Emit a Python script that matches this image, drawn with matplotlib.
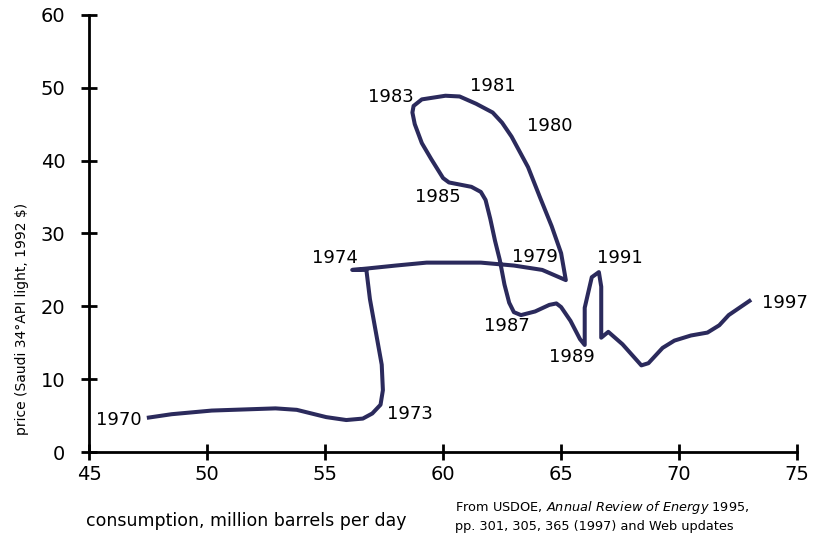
import matplotlib
matplotlib.use("Agg")
import matplotlib.pyplot as plt

# traced path of the curve, 1970 -> 1997
consumption = [47.45, 48.5, 50.2, 52.9, 53.8, 55.05, 55.9, 56.6, 57.0, 57.35,
               57.45, 57.4, 57.15, 56.9, 56.75,
               56.15, 56.8, 58.0, 59.3, 61.6, 63.0, 64.2, 64.7, 65.2,
               65.0, 64.6, 64.1, 63.6, 63.2, 62.9, 62.5, 62.1, 61.4, 60.7,
               60.1, 59.1, 58.75, 58.7, 58.8, 59.1, 59.5, 60.0, 60.25,
               61.2, 61.6, 61.8, 62.0, 62.2, 62.4, 62.6, 62.8, 63.0, 63.3,
               63.9, 64.5, 64.8, 65.0, 65.4, 65.8, 66.0,
               66.0, 66.3, 66.6, 66.7, 66.7, 67.0, 67.6, 68.4, 68.7, 69.3,
               69.8, 70.5, 71.2, 71.7, 72.1, 73.05]
price = [4.7, 5.2, 5.7, 6.0, 5.8, 4.8, 4.4, 4.6, 5.3, 6.5,
         8.5, 12.0, 16.5, 21.0, 25.0,
         25.0, 25.2, 25.6, 26.0, 26.0, 25.6, 25.0, 24.3, 23.6,
         27.3, 31.0, 35.0, 39.1, 41.5, 43.3, 45.2, 46.6, 47.8, 48.8,
         48.9, 48.4, 47.5, 46.6, 45.0, 42.4, 40.2, 37.6, 37.0,
         36.4, 35.7, 34.6, 32.0, 29.0, 26.4, 23.0, 20.5, 19.2, 18.8,
         19.3, 20.2, 20.4, 19.9, 18.0, 15.5, 14.7,
         19.8, 24.0, 24.7, 22.7, 15.7, 16.5, 14.8, 11.9, 12.2, 14.3,
         15.3, 16.0, 16.4, 17.4, 18.8, 20.9]

years = ["1970", "1973", "1974", "1979", "1980", "1981",
         "1983", "1985", "1987", "1989", "1991", "1997"]
label_pos = [(46.25, 4.4), (58.6, 5.2), (55.4, 26.6), (63.9, 26.8),
             (64.5, 44.8), (62.1, 50.3), (57.8, 48.75), (59.8, 35.0),
             (62.7, 17.3), (65.45, 13.0), (67.5, 26.6), (74.5, 20.5)]

fig = plt.figure(figsize=(8.13, 5.5), dpi=100)
ax = fig.add_axes([0.1095, 0.178, 0.871, 0.795])

ax.plot(consumption, price, '-', color='#2b2a5c', linewidth=2.9,
        solid_joinstyle='round', solid_capstyle='butt')

for yr, (x, y) in zip(years, label_pos):
    ax.text(x, y, yr, fontsize=13, ha='center', va='center', color='black')

ax.set_xlim(45, 75)
ax.set_ylim(0, 60)
ax.set_xticks(range(45, 80, 5))
ax.set_yticks(range(0, 70, 10))
for s in ['top', 'right']:
    ax.spines[s].set_visible(False)
for s in ['left', 'bottom']:
    ax.spines[s].set_linewidth(2)
ax.tick_params(direction='inout', length=12, width=2, labelsize=14)
ax.tick_params(axis='y', pad=11)
ax.tick_params(axis='x', pad=3)

fig.text(0.303, 0.052, 'consumption, million barrels per day', fontsize=12.5,
         ha='center', va='center')
fig.text(0.027, 0.42, 'price (Saudi 34°API light, 1992 $)', fontsize=10,
         rotation=90, ha='center', va='center')
fig.text(0.56, 0.077, 'From USDOE, $\\it{Annual\\ Review\\ of\\ Energy}$ 1995,',
         fontsize=9.3, ha='left', va='center')
fig.text(0.56, 0.042, 'pp. 301, 305, 365 (1997) and Web updates',
         fontsize=9.3, ha='left', va='center')

fig.savefig('out.png', dpi=100)
